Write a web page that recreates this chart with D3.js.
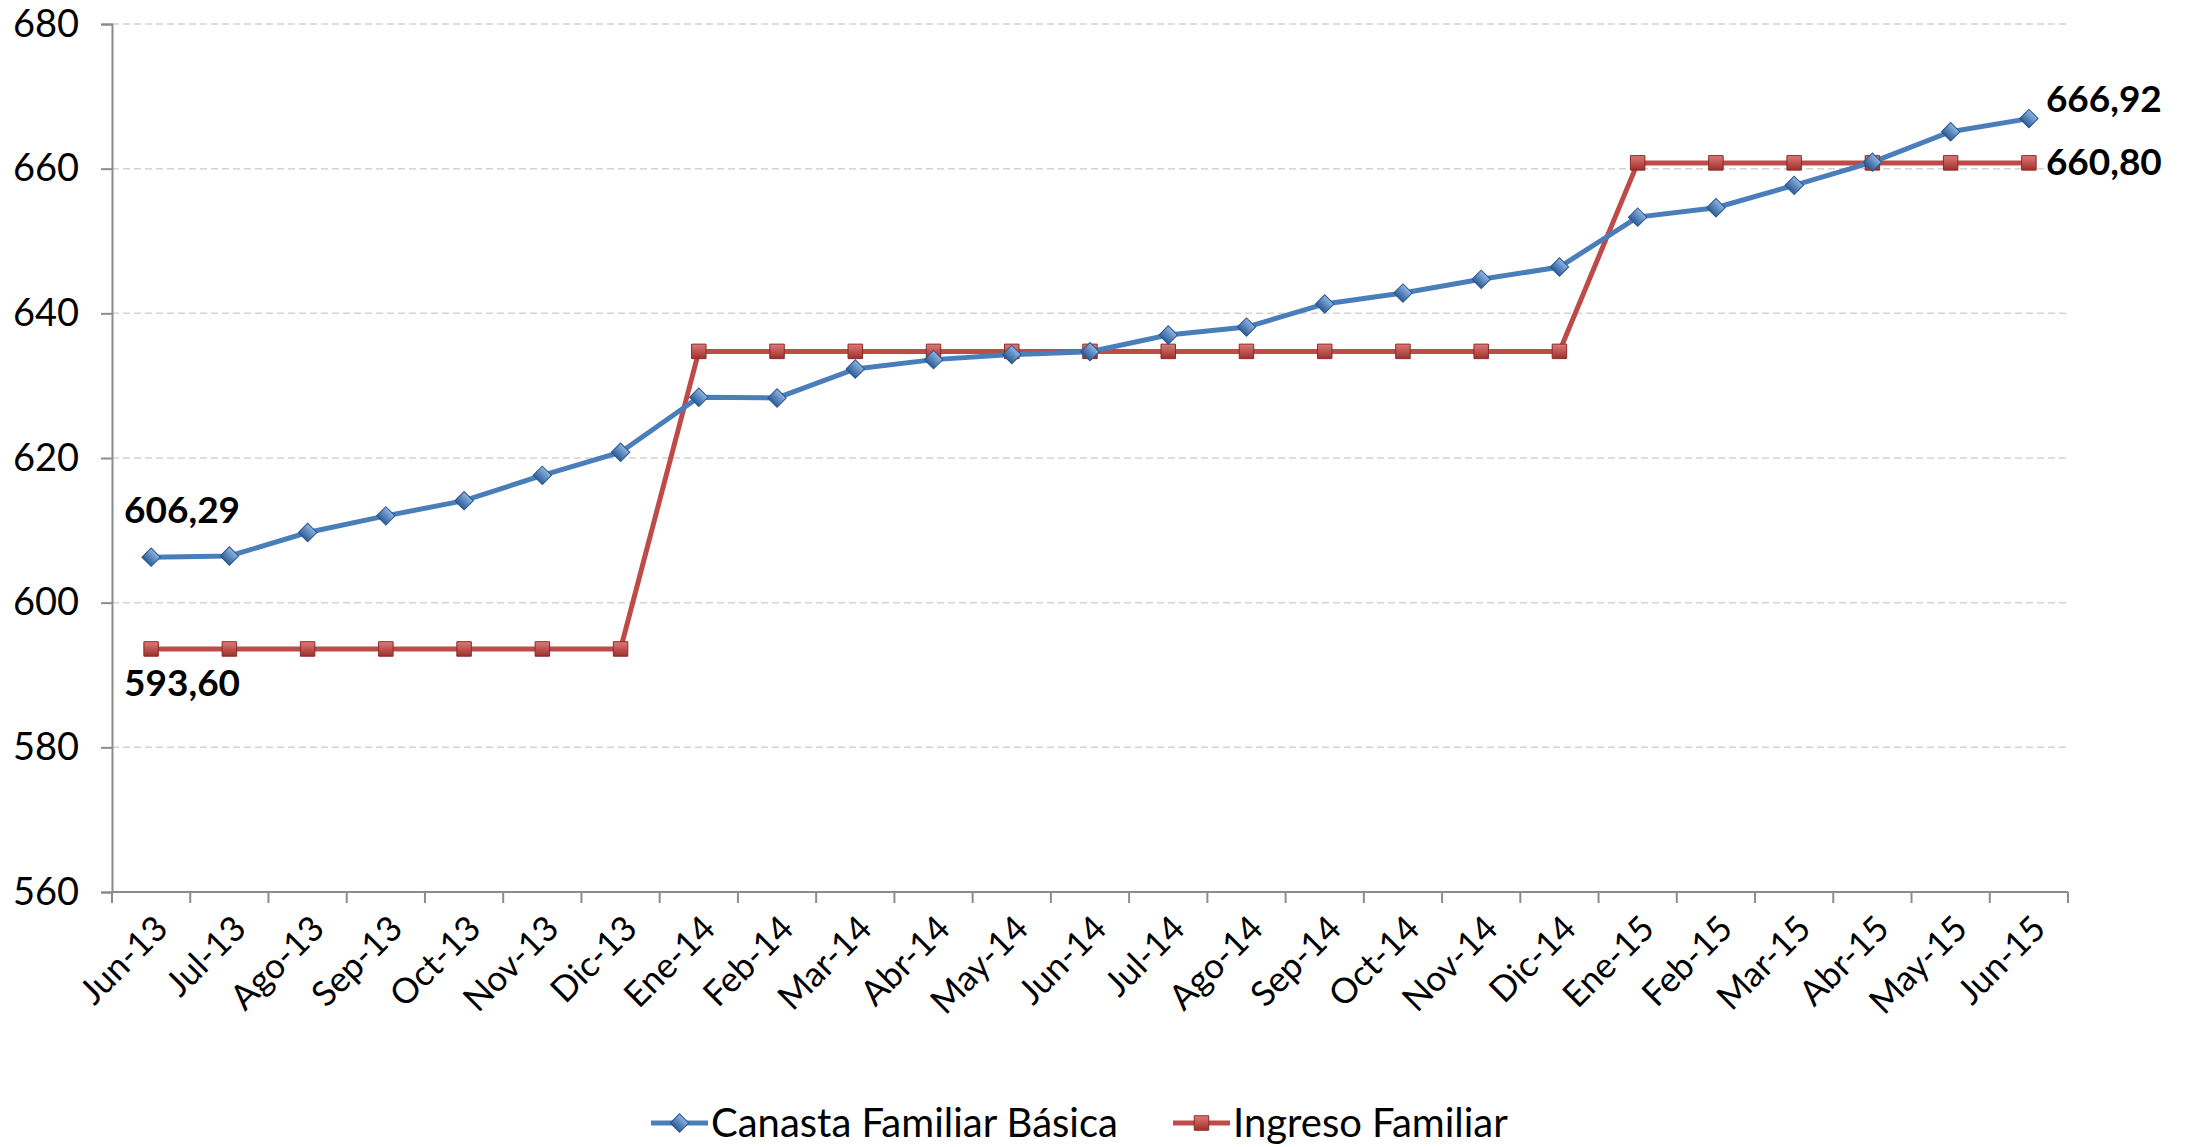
<!DOCTYPE html>
<html>
<head>
<meta charset="utf-8">
<script src="https://cdn.jsdelivr.net/npm/d3@7"></script>
<style>
  body { margin: 0; background: #fff; }
  svg text { font-family: Lato, "Open Sans", sans-serif; }
</style>
</head>
<body>
<svg id="chart" width="2185" height="1147"></svg>
<script>
// ---- data ----
const months = ["Jun-13","Jul-13","Ago-13","Sep-13","Oct-13","Nov-13","Dic-13",
  "Ene-14","Feb-14","Mar-14","Abr-14","May-14","Jun-14","Jul-14","Ago-14","Sep-14",
  "Oct-14","Nov-14","Dic-14","Ene-15","Feb-15","Mar-15","Abr-15","May-15","Jun-15"];
const canasta = [606.29, 606.45, 609.7, 612.0, 614.1, 617.6, 620.8,
  628.4, 628.3, 632.3, 633.6, 634.3, 634.7, 637.0, 638.1, 641.3,
  642.8, 644.7, 646.4, 653.3, 654.6, 657.7, 660.9, 665.1, 666.92];
const ingreso = [593.60, 593.60, 593.60, 593.60, 593.60, 593.60, 593.60,
  634.74, 634.74, 634.74, 634.74, 634.74, 634.74, 634.74, 634.74, 634.74,
  634.74, 634.74, 634.74, 660.80, 660.80, 660.80, 660.80, 660.80, 660.80];
const yTicks = [560, 580, 600, 620, 640, 660, 680];
const seriesNames = ["Canasta Familiar Básica", "Ingreso Familiar"];

// ---- layout ----
const plotLeft = 112, plotRight = 2068, plotTop = 24, plotBottom = 892;
const blue = "#4a7ebb", red = "#be4b48";

const svg = d3.select("#chart");
const x = d3.scaleBand().domain(months).range([plotLeft, plotRight]);
const y = d3.scaleLinear().domain([560, 680]).range([plotBottom, plotTop]);

// gridlines
svg.append("g")
  .selectAll("line")
  .data(yTicks.filter(d => d > 560))
  .enter().append("line")
  .attr("x1", plotLeft).attr("x2", plotRight)
  .attr("y1", d => y(d)).attr("y2", d => y(d))
  .attr("stroke", "#d4d4d4").attr("stroke-width", 1.5)
  .attr("stroke-dasharray", "7,4");

// y axis
const yAxis = svg.append("g")
  .attr("transform", `translate(${plotLeft},0)`)
  .call(d3.axisLeft(y).tickValues(yTicks).tickSize(11).tickPadding(22).tickFormat(d3.format("d")));
yAxis.select(".domain").attr("stroke", "#8c8c8c").attr("stroke-width", 2);
yAxis.selectAll(".tick line").attr("stroke", "#8c8c8c").attr("stroke-width", 2);
yAxis.selectAll(".tick text")
  .style("font-size", "38px").attr("fill", "#000");

// x axis (ticks at category boundaries)
const xg = svg.append("g");
xg.append("line")
  .attr("x1", plotLeft).attr("x2", plotRight).attr("y1", plotBottom).attr("y2", plotBottom)
  .attr("stroke", "#8c8c8c").attr("stroke-width", 2);
const bounds = months.map(m => x(m)).concat([plotRight]);
xg.selectAll(".xt")
  .data(bounds)
  .enter().append("line")
  .attr("class", "xt")
  .attr("x1", d => d).attr("x2", d => d)
  .attr("y1", plotBottom).attr("y2", plotBottom + 11)
  .attr("stroke", "#8c8c8c").attr("stroke-width", 2);
xg.selectAll(".xl")
  .data(months)
  .enter().append("text")
  .attr("class", "xl")
  .attr("transform", d => `translate(${x(d) + x.bandwidth() / 2 + 10},${plotBottom + 30}) rotate(-45)`)
  .attr("text-anchor", "end")
  .attr("dy", "0.35em")
  .style("font-size", "35px")
  .text(d => d);

// lines
const cx = d => x(d) + x.bandwidth() / 2;
const line = d3.line().x(d => cx(d.m)).y(d => y(d.v));
const blueData = months.map((m, i) => ({ m, v: canasta[i] }));
const redData = months.map((m, i) => ({ m, v: ingreso[i] }));

// marker gradients
const defs = svg.append("defs");
const gb = defs.append("linearGradient").attr("id", "gb").attr("x1", 0).attr("y1", 0).attr("x2", 0).attr("y2", 1);
gb.append("stop").attr("offset", "0%").attr("stop-color", "#8fb4e3");
gb.append("stop").attr("offset", "100%").attr("stop-color", "#2c5d98");
const gr = defs.append("linearGradient").attr("id", "gr").attr("x1", 0).attr("y1", 0).attr("x2", 0).attr("y2", 1);
gr.append("stop").attr("offset", "0%").attr("stop-color", "#e07a77");
gr.append("stop").attr("offset", "100%").attr("stop-color", "#9c2f2c");

svg.append("path").datum(redData).attr("d", line)
  .attr("fill", "none").attr("stroke", red).attr("stroke-width", 5);
svg.append("path").datum(blueData).attr("d", line)
  .attr("fill", "none").attr("stroke", blue).attr("stroke-width", 5);

const diamond = d3.symbol().type(d3.symbolSquare).size(170);
const square = d3.symbol().type(d3.symbolSquare).size(210);

svg.append("g").selectAll("path")
  .data(redData).enter().append("path")
  .attr("d", square)
  .attr("transform", d => `translate(${cx(d.m)},${y(d.v)})`)
  .attr("fill", "url(#gr)").attr("stroke", "#8c2a27").attr("stroke-width", 1);

svg.append("g").selectAll("path")
  .data(blueData).enter().append("path")
  .attr("d", diamond)
  .attr("transform", d => `translate(${cx(d.m)},${y(d.v)}) rotate(45)`)
  .attr("fill", "url(#gb)").attr("stroke", "#2a568c").attr("stroke-width", 1);

// data labels
const fmt = v => v.toFixed(2).replace(".", ",");
const labels = [
  { m: months[0], v: canasta[0], dx: -27, dy: -34 },
  { m: months[0], v: ingreso[0], dx: -27, dy: 47 },
  { m: months[24], v: canasta[24], dx: 17, dy: -7 },
  { m: months[24], v: ingreso[24], dx: 17, dy: 12 }
];
svg.append("g").selectAll("text")
  .data(labels).enter().append("text")
  .attr("x", d => cx(d.m) + d.dx)
  .attr("y", d => y(d.v) + d.dy)
  .style("font-size", "37px").style("font-weight", "bold")
  .text(d => fmt(d.v));

// legend
const legend = svg.append("g").attr("transform", "translate(651,1123)");
const legItems = [
  { name: seriesNames[0], color: blue, x: 0, shape: "d" },
  { name: seriesNames[1], color: red, x: 522, shape: "s" }
];
legItems.forEach(it => {
  const g = legend.append("g").attr("transform", `translate(${it.x},0)`);
  g.append("line").attr("x1", 0).attr("x2", 57).attr("stroke", it.color).attr("stroke-width", 5);
  if (it.shape === "d") {
    g.append("path").attr("d", diamond).attr("transform", "translate(28.5,0) rotate(45)")
      .attr("fill", "url(#gb)").attr("stroke", "#2a568c");
  } else {
    g.append("path").attr("d", square).attr("transform", "translate(28.5,0)")
      .attr("fill", "url(#gr)").attr("stroke", "#8c2a27");
  }
  g.append("text").attr("x", 60).attr("dy", "0.35em")
    .style("font-size", "40px").text(it.name);
});
</script>
</body>
</html>
